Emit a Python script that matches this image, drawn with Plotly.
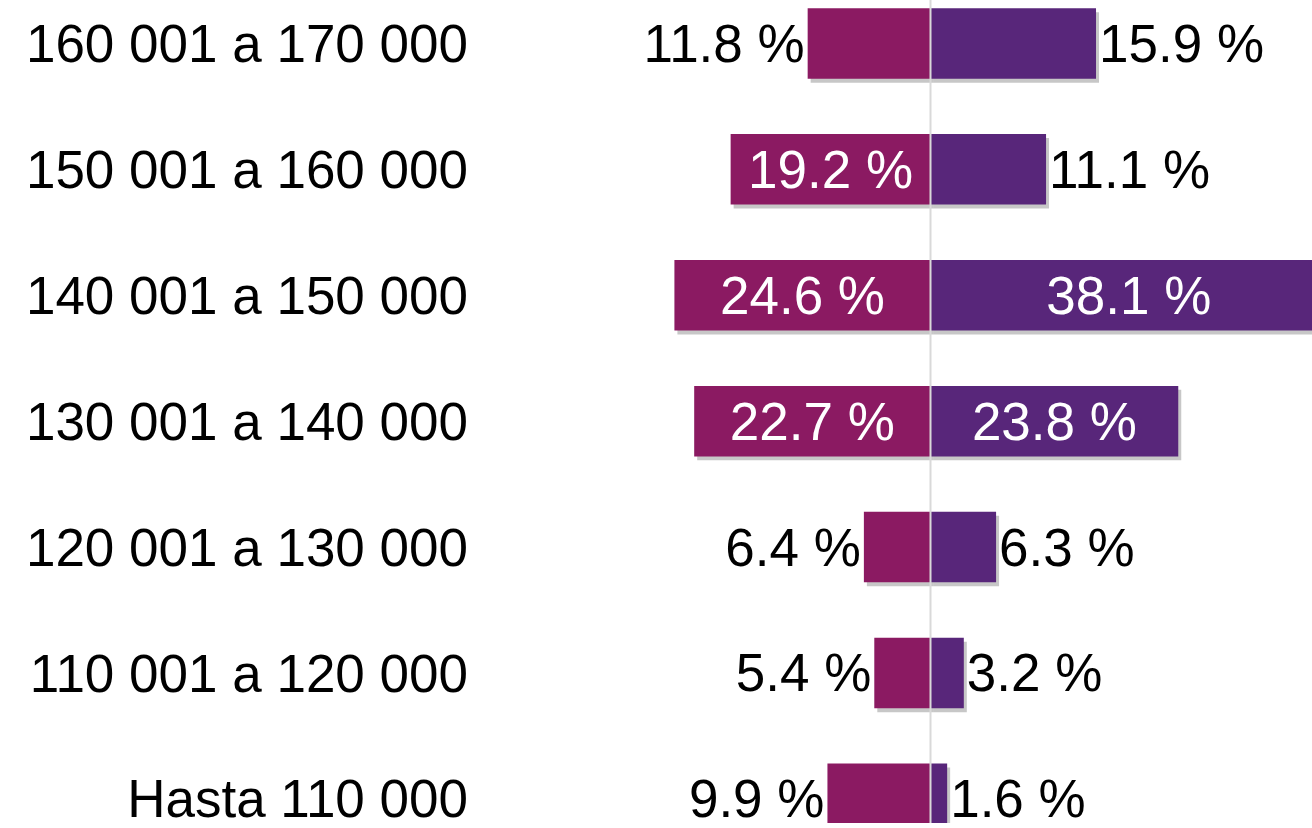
import plotly.graph_objects as go

# Data (bottom to top)
categorias = ["Hasta 110 000", "110 001 a 120 000", "120 001 a 130 000",
              "130 001 a 140 000", "140 001 a 150 000", "150 001 a 160 000",
              "160 001 a 170 000"]
serie_izq = [9.9, 5.4, 6.4, 22.7, 24.6, 19.2, 11.8]
serie_der = [1.6, 3.2, 6.3, 23.8, 38.1, 11.1, 15.9]

FONT = "Liberation Sans, Arial, sans-serif"
COL_IZQ = "#8B1A62"
COL_DER = "#58267A"
SHADOW = "rgba(0,0,0,0.22)"
BAR_W = 0.56

def etiquetas(vals):
    return [f"{v:.1f} %" for v in vals]

def posiciones(vals):
    return ["inside" if v >= 17 else "outside" for v in vals]

fig = go.Figure()

# shadows (drawn on base axes, offset slightly)
for vals, sign in ((serie_izq, -1), (serie_der, 1)):
    fig.add_trace(go.Bar(
        y=categorias, x=[sign * v for v in vals], orientation="h",
        width=BAR_W, marker=dict(color=SHADOW, line=dict(width=0)),
        hoverinfo="skip", showlegend=False, xaxis="x", yaxis="y"))

# main bars (overlay axes)
for vals, sign, col in ((serie_izq, -1, COL_IZQ), (serie_der, 1, COL_DER)):
    fig.add_trace(go.Bar(
        y=categorias, x=[sign * v for v in vals], orientation="h",
        width=BAR_W, marker=dict(color=col, line=dict(width=0)),
        text=etiquetas(vals), textposition=posiciones(vals),
        insidetextanchor="middle", constraintext="none", textangle=0,
        insidetextfont=dict(family=FONT, size=53, color="white"),
        outsidetextfont=dict(family=FONT, size=53, color="black"),
        showlegend=False, xaxis="x2", yaxis="y2"))

L = 469
scale = 10.41      # px per percent
zero_px = 930.5
W, H = 1312, 828
x_rng = [-(zero_px - L) / scale, (W - zero_px) / scale]
dx = 3 / scale
row_px = 126.67
y_rng = [-(H - 803.7) / row_px, 6 + 43.7 / row_px]
dy = 4 / row_px

fig.update_layout(
    width=W, height=H, autosize=False,
    margin=dict(l=L, r=0, t=0, b=0, pad=0),
    paper_bgcolor="white", plot_bgcolor="white",
    barmode="overlay",
    font=dict(family=FONT, size=53, color="black"),
    xaxis=dict(range=[x_rng[0] - dx, x_rng[1] - dx], visible=False,
               showgrid=False, zeroline=False),
    yaxis=dict(range=[y_rng[0] + dy, y_rng[1] + dy], type="category",
               categoryorder="array", categoryarray=categorias,
               showticklabels=False, showgrid=False, zeroline=False,
               showline=False, ticks=""),
    xaxis2=dict(range=x_rng, overlaying="x", anchor="y2", visible=False,
                showgrid=False, zeroline=False),
    yaxis2=dict(range=y_rng, overlaying="y", anchor="x2", side="left",
                type="category", categoryorder="array",
                categoryarray=categorias, showgrid=False, zeroline=False,
                showline=False, ticks="",
                tickfont=dict(family=FONT, size=53, color="black")),
    shapes=[dict(type="line", xref="x2", yref="paper", x0=0, x1=0,
                 y0=0, y1=1, line=dict(color="#D9D9D9", width=2),
                 layer="above")],
)

fig.write_html(
    "out.html",
    config={"displayModeBar": False},
    post_script="document.body.style.margin='0';document.body.style.overflow='hidden';",
)
